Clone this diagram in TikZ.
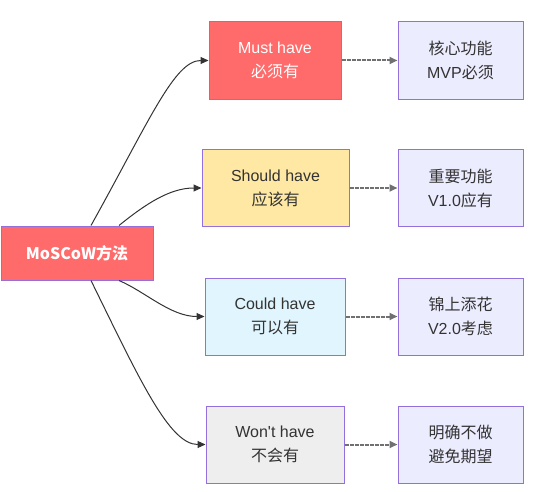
\documentclass[tikz,border=0pt]{standalone}
\usepackage{fontspec}
\setmainfont{Liberation Sans}
\newfontfamily\cjk{Noto Sans CJK SC}
\usetikzlibrary{arrows.meta}
\definecolor{nodeborder}{HTML}{9370DB}
\definecolor{mustred}{HTML}{FF6B6B}
\definecolor{shouldyellow}{HTML}{FFE8A3}
\definecolor{couldblue}{HTML}{E1F5FE}
\definecolor{wontgray}{HTML}{EEEEEE}
\definecolor{notelilac}{HTML}{ECECFF}
\definecolor{edgegray}{HTML}{333333}

\begin{document}
\begin{tikzpicture}[
  x=0.75pt, y=-0.75pt,
  box/.style={rectangle, draw=nodeborder, line width=0.75pt, align=center,
              inner sep=0pt, text=edgegray, minimum height=57.75pt,
              font=\fontsize{12}{18}\selectfont},
  rootbox/.style={box, fill=mustred, text=white, minimum width=114pt, minimum height=40.5pt},
  mustbox/.style={box, fill=mustred, text=white, minimum width=99pt},
  shouldbox/.style={box, fill=shouldyellow, minimum width=110.25pt},
  couldbox/.style={box, fill=couldblue, minimum width=105pt},
  wontbox/.style={box, fill=wontgray, minimum width=103.5pt},
  notebox/.style={box, fill=notelilac, minimum width=93.75pt},
  arrow/.style={-{Triangle[length=6pt, width=5.25pt]}, draw=edgegray, line width=0.75pt},
  dotarrow/.style={-{Triangle[length=6pt, width=5.25pt]}, draw=edgegray!70, line width=1.5pt,
                   dash pattern=on 3pt off 0.75pt}
]
\useasboundingbox (0,0) rectangle (553,492);

\node[rootbox] (moscow) at (77,253) {\cjk\bfseries MoSCoW方法};
\node[mustbox] (must) at (275,60.5) {Must have\\{\cjk 必须有}};
\node[shouldbox] (should) at (275.5,188) {Should have\\{\cjk 应该有}};
\node[couldbox] (could) at (275,316.5) {Could have\\{\cjk 可以有}};
\node[wontbox] (wont) at (275,444.5) {Won\textquotesingle t have\\{\cjk 不会有}};

\node[notebox] (mustnote) at (460.5,60.5) {{\cjk 核心功能}\\MVP{\cjk 必须}};
\node[notebox] (shouldnote) at (460.5,188) {{\cjk 重要功能}\\V1.0{\cjk 应有}};
\node[notebox] (couldnote) at (460.5,316.5) {{\cjk 锦上添花}\\V2.0{\cjk 考虑}};
\node[notebox] (wontnote) at (460.5,444.5) {{\cjk 明确不做}\\{\cjk 避免期望}};

\draw[arrow] ([xshift=10.5pt]moscow.north) .. controls +(59,-106) and +(-34,0) .. (must.west);
\draw[arrow] ([xshift=31.5pt]moscow.north) .. controls +(26,-21) and +(-32,0) .. (should.west);
\draw[arrow] ([xshift=31.5pt]moscow.south) .. controls +(26,11) and +(-34,0) .. (could.west);
\draw[arrow] ([xshift=10.5pt]moscow.south) .. controls +(49,100) and +(-36,0) .. (wont.west);

\draw[dotarrow] (must.east) -- (mustnote.west);
\draw[dotarrow] (should.east) -- (shouldnote.west);
\draw[dotarrow] (could.east) -- (couldnote.west);
\draw[dotarrow] (wont.east) -- (wontnote.west);
\end{tikzpicture}
\end{document}
